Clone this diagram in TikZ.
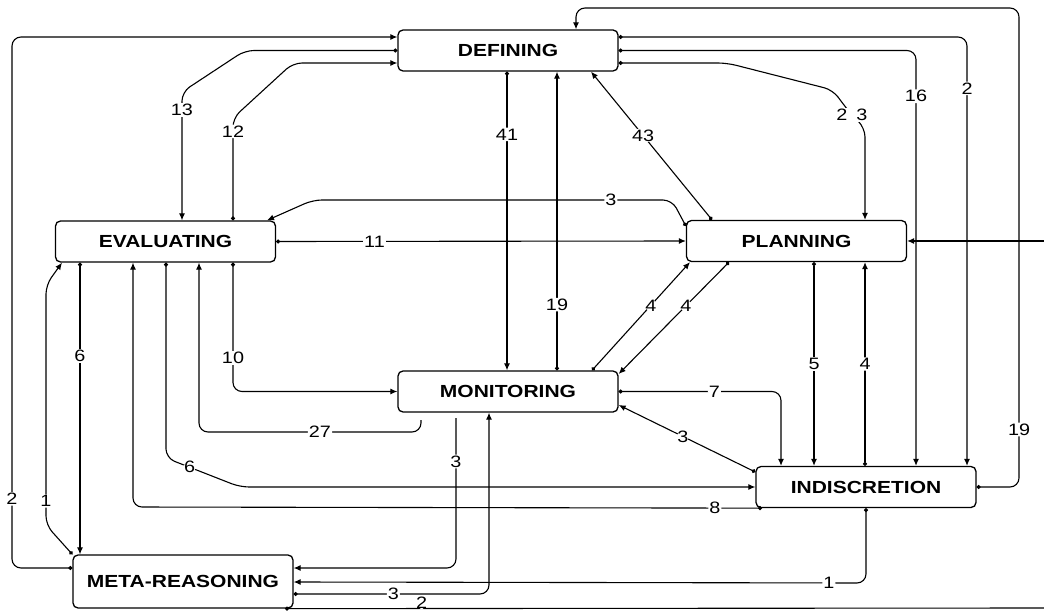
\documentclass[tikz,border=0pt]{standalone}
\usepackage{fontspec}
\setmainfont{Liberation Sans}[FakeStretch=1.2]
\usetikzlibrary{arrows.meta}

\begin{document}
\begin{tikzpicture}[
  x=1pt, y=-1pt,
  state/.style = {shape=rectangle, rounded corners=5pt, draw, line width=1.3pt,
    minimum width=220pt, minimum height=41pt, inner sep=0pt,
    font=\fontsize{17.5}{20}\selectfont\bfseries},
  flow/.style = {draw, line width=1.1pt, rounded corners=9pt,
    {Circle[length=4pt]}-{Latex[length=7pt,width=6pt]}},
  flowin/.style = {flow, -{Latex[length=7pt,width=6pt]}},
  flowout/.style = {flow, {Circle[length=4pt]}-},
  num/.style = {fill=white, inner sep=1pt, font=\fontsize{16.5}{18}\selectfont}
]
  \useasboundingbox (0,0) rectangle (1044,612);

  \node[state] (defining) at (508,50.5) {DEFINING};
  \node[state] (evaluating) at (165.5,241.5) {EVALUATING};
  \node[state] (planning) at (796.5,241) {PLANNING};
  \node[state] (monitoring) at (508,391.5) {MONITORING};
  \node[state] (indiscretion) at (866,487) {INDISCRETION};
  \node[state, minimum height=53pt] (metareasoning) at (183,581.5) {META-REASONING};

  \coordinate (offright) at (1044,241);
  \coordinate (offbottom) at (1044,608);
  \coordinate (mon27) at (421,420);
  \coordinate (mon3) at (456,418);

  \draw[flow] (defining.west) -- (245,50.5) -- (182,92) -- node[num, pos=.14]{13} (evaluating.north -| 182,0);
  \draw[flow] (defining.south -| 507,0) -- node[num, pos=.21]{41} (monitoring.north -| 507,0);
  \draw[flow] (defining.east |- 0,63) -- (727,63) -- (833,90) -- (843,104) -- (852,115) node[num]{2\hspace{9pt}3}
    -- (865,128) -- (planning.north -| 865,0);
  \draw[flow] (defining.east) -- (916,50.5) -- node[num, pos=.11]{16} (indiscretion.north -| 916,0);
  \draw[flow] (defining.east |- 0,37) -- (967,37) -- node[num, pos=.12]{2} (indiscretion.north -| 967,0);

  \draw[flow] (metareasoning.west |- 0,568) -- (12,568) -- node[num, pos=.13]{2} (12,37) -- (defining.west |- 0,37);
  \draw[flow] (evaluating.north -| 233,0) -- node[num, pos=.87]{12} (233,118) -- (293,63) -- (defining.west |- 0,63);
  \draw[flow] (monitoring.north -| 557,0) -- node[num, pos=.22]{19} (defining.south -| 557,0);
  \draw[flow] (planning.north -| 712,0) -- node[num, pos=.57]{43} (defining.south -| 591,0);
  \draw[flow] (indiscretion.east) -- (1019,487) -- node[num, pos=.12]{19} (1019,8) -- (576,8) -- (defining.north -| 576,0);

  \draw[flow] (planning.west |- 0,226) -- (672,200) -- node[num, pos=.17]{3} (313,200) -- (evaluating.north -| 267,0);
  \draw[flow] (evaluating.east) -- node[num, pos=.24]{11} (planning.west);
  \draw[flowin] (offright) -- (planning.east);

  \draw[flow] (monitoring.north -| 592,0) -- node[num, pos=.6]{4} (planning.south -| 690,0);
  \draw[flow] (planning.south -| 729,0) -- node[num, pos=.39]{4} (monitoring.east |- 0,374);
  \draw[flow] (planning.south -| 814,0) -- node[num]{5} (indiscretion.north -| 814,0);
  \draw[flow] (indiscretion.north -| 865,0) -- node[num]{4} (planning.south -| 865,0);
  \draw[flow] (monitoring.east) -- node[num, pos=.59]{7} (781,391.5) -- (indiscretion.north -| 781,0);
  \draw[flow] (indiscretion.west |- 0,472) -- node[num, pos=.53]{3} (monitoring.east |- 0,405);

  \draw[flow] (evaluating.south -| 233,0) -- node[num, pos=.74]{10} (233,391.5) -- (monitoring.west);
  \draw[flowin] (mon27) -- (421,432) -- node[num, pos=.455]{27} (199,432) -- (evaluating.south -| 199,0);

  \draw[flow] (evaluating.south -| 80,0) -- node[num, pos=.32]{6} (metareasoning.north -| 80,0);
  \draw[flow] (metareasoning.north west) -- (46,525) -- node[num, pos=.1]{1} (46,285) -- (evaluating.south -| 62,0);
  \draw[flow] (evaluating.south -| 166,0) -- (166,458) -- node[num, pos=.32]{6} (240,487) -- (indiscretion.west);
  \draw[flow] (indiscretion.south -| 762,0) -- node[num, pos=.075]{8} (133,507) -- (evaluating.south -| 133,0);
  \draw[flowin] (mon3) -- node[num, pos=.29]{3} (456,568) -- (metareasoning.east |- 0,568);
  \draw[flow] (metareasoning.east |- 0,594) -- node[num, pos=.51]{3} (489,594) -- (monitoring.south -| 489,0);
  \draw[flow] (indiscretion.south) -- (866,583) -- node[num, pos=.065]{1} (metareasoning.east |- 0,582);
  \draw[flowout] (metareasoning.south -| 285,0) -- node[num, pos=.18, yshift=6pt]{2} (offbottom);
\end{tikzpicture}
\end{document}
